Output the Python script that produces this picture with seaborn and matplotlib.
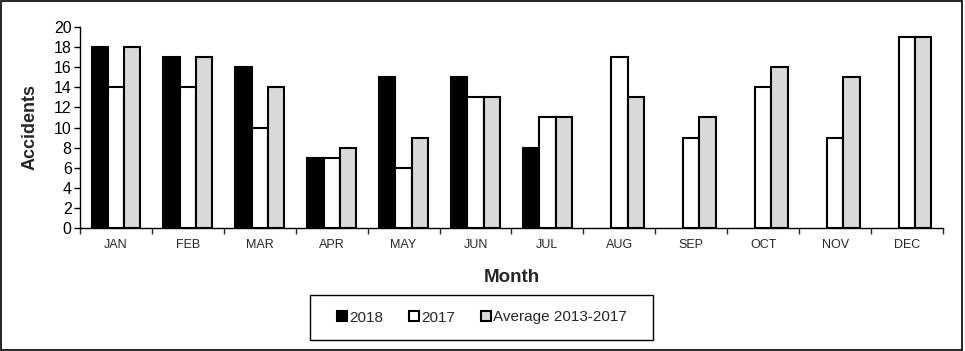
import numpy as np
import pandas as pd
import matplotlib
matplotlib.use("Agg")
import matplotlib.pyplot as plt
from matplotlib.patches import Rectangle, Patch
import seaborn as sns

months = ["JAN", "FEB", "MAR", "APR", "MAY", "JUN", "JUL", "AUG", "SEP", "OCT", "NOV", "DEC"]
series_names = ["2018", "2017", "Average 2013-2017"]
vals_2018 = [18, 17, 16, 7, 15, 15, 8, np.nan, np.nan, np.nan, np.nan, np.nan]
vals_2017 = [14, 14, 10, 7, 6, 13, 11, 17, 9, 14, 9, 19]
vals_avg = [18, 17, 14, 8, 9, 13, 11, 13, 11, 16, 15, 19]
colors = ["#000000", "#ffffff", "#d9d9d9"]

df = pd.DataFrame({
    "Month": months * 3,
    "Series": [series_names[0]] * 12 + [series_names[1]] * 12 + [series_names[2]] * 12,
    "Accidents": vals_2018 + vals_2017 + vals_avg,
})

sns.set_style("ticks")
plt.rcParams["font.family"] = ["Liberation Sans", "DejaVu Sans"]

fig = plt.figure(figsize=(9.65, 3.51), dpi=100)
ax = fig.add_axes([80 / 965, 1 - 228 / 351, 863 / 965, 201 / 351])

sns.barplot(data=df, x="Month", y="Accidents", hue="Series", order=months,
            hue_order=series_names, palette=colors, width=0.68, gap=0,
            edgecolor="black", linewidth=1.5, ax=ax, legend=False, errorbar=None,
            saturation=1)

ax.set_xlim(-0.5, 11.5)
ax.set_ylim(0, 20)
ax.set_yticks(np.arange(0, 21, 2))
ax.tick_params(axis="y", labelsize=11.5, length=4, width=1, direction="out", pad=2, colors="black")

ax.set_xticks(np.arange(-0.5, 12, 1))
ax.set_xticklabels([])
ax.set_xticks(np.arange(12), minor=True)
ax.set_xticklabels(months, minor=True)
ax.tick_params(axis="x", which="major", length=4, width=1, direction="out")
ax.tick_params(axis="x", which="minor", length=0, labelsize=9, pad=8)

for s in ["top", "right"]:
    ax.spines[s].set_visible(False)
for s in ["left", "bottom"]:
    ax.spines[s].set_color("black")
    ax.spines[s].set_linewidth(1)

ax.set_xlabel("Month", fontsize=13.5, fontweight="bold")
ax.xaxis.label.set_va("center")
ax.xaxis.set_label_coords(0.5, -0.244)
ax.set_ylabel("Accidents", fontsize=13, fontweight="bold")
ax.yaxis.label.set_va("center")
ax.yaxis.set_label_coords(-0.058, 0.5)

# legend box
fig.patches.append(Rectangle((310 / 965, 1 - 340 / 351), 343 / 965, 45 / 351,
                             transform=fig.transFigure, fill=False,
                             edgecolor="black", linewidth=1))
handles = [Patch(facecolor=c, edgecolor="black", linewidth=1.5) for c in colors]
fig.legend(handles, series_names, loc="center", bbox_to_anchor=(482 / 965, 1 - 317.5 / 351),
           ncol=3, frameon=False, fontsize=11, handlelength=0.65, handleheight=0.65,
           handletextpad=0.15, columnspacing=1.7)

# figure border
fig.patches.append(Rectangle((0.001, 0.004), 0.996, 0.994, transform=fig.transFigure,
                             fill=False, edgecolor="black", linewidth=1.2))

fig.savefig("out.png", dpi=100)
